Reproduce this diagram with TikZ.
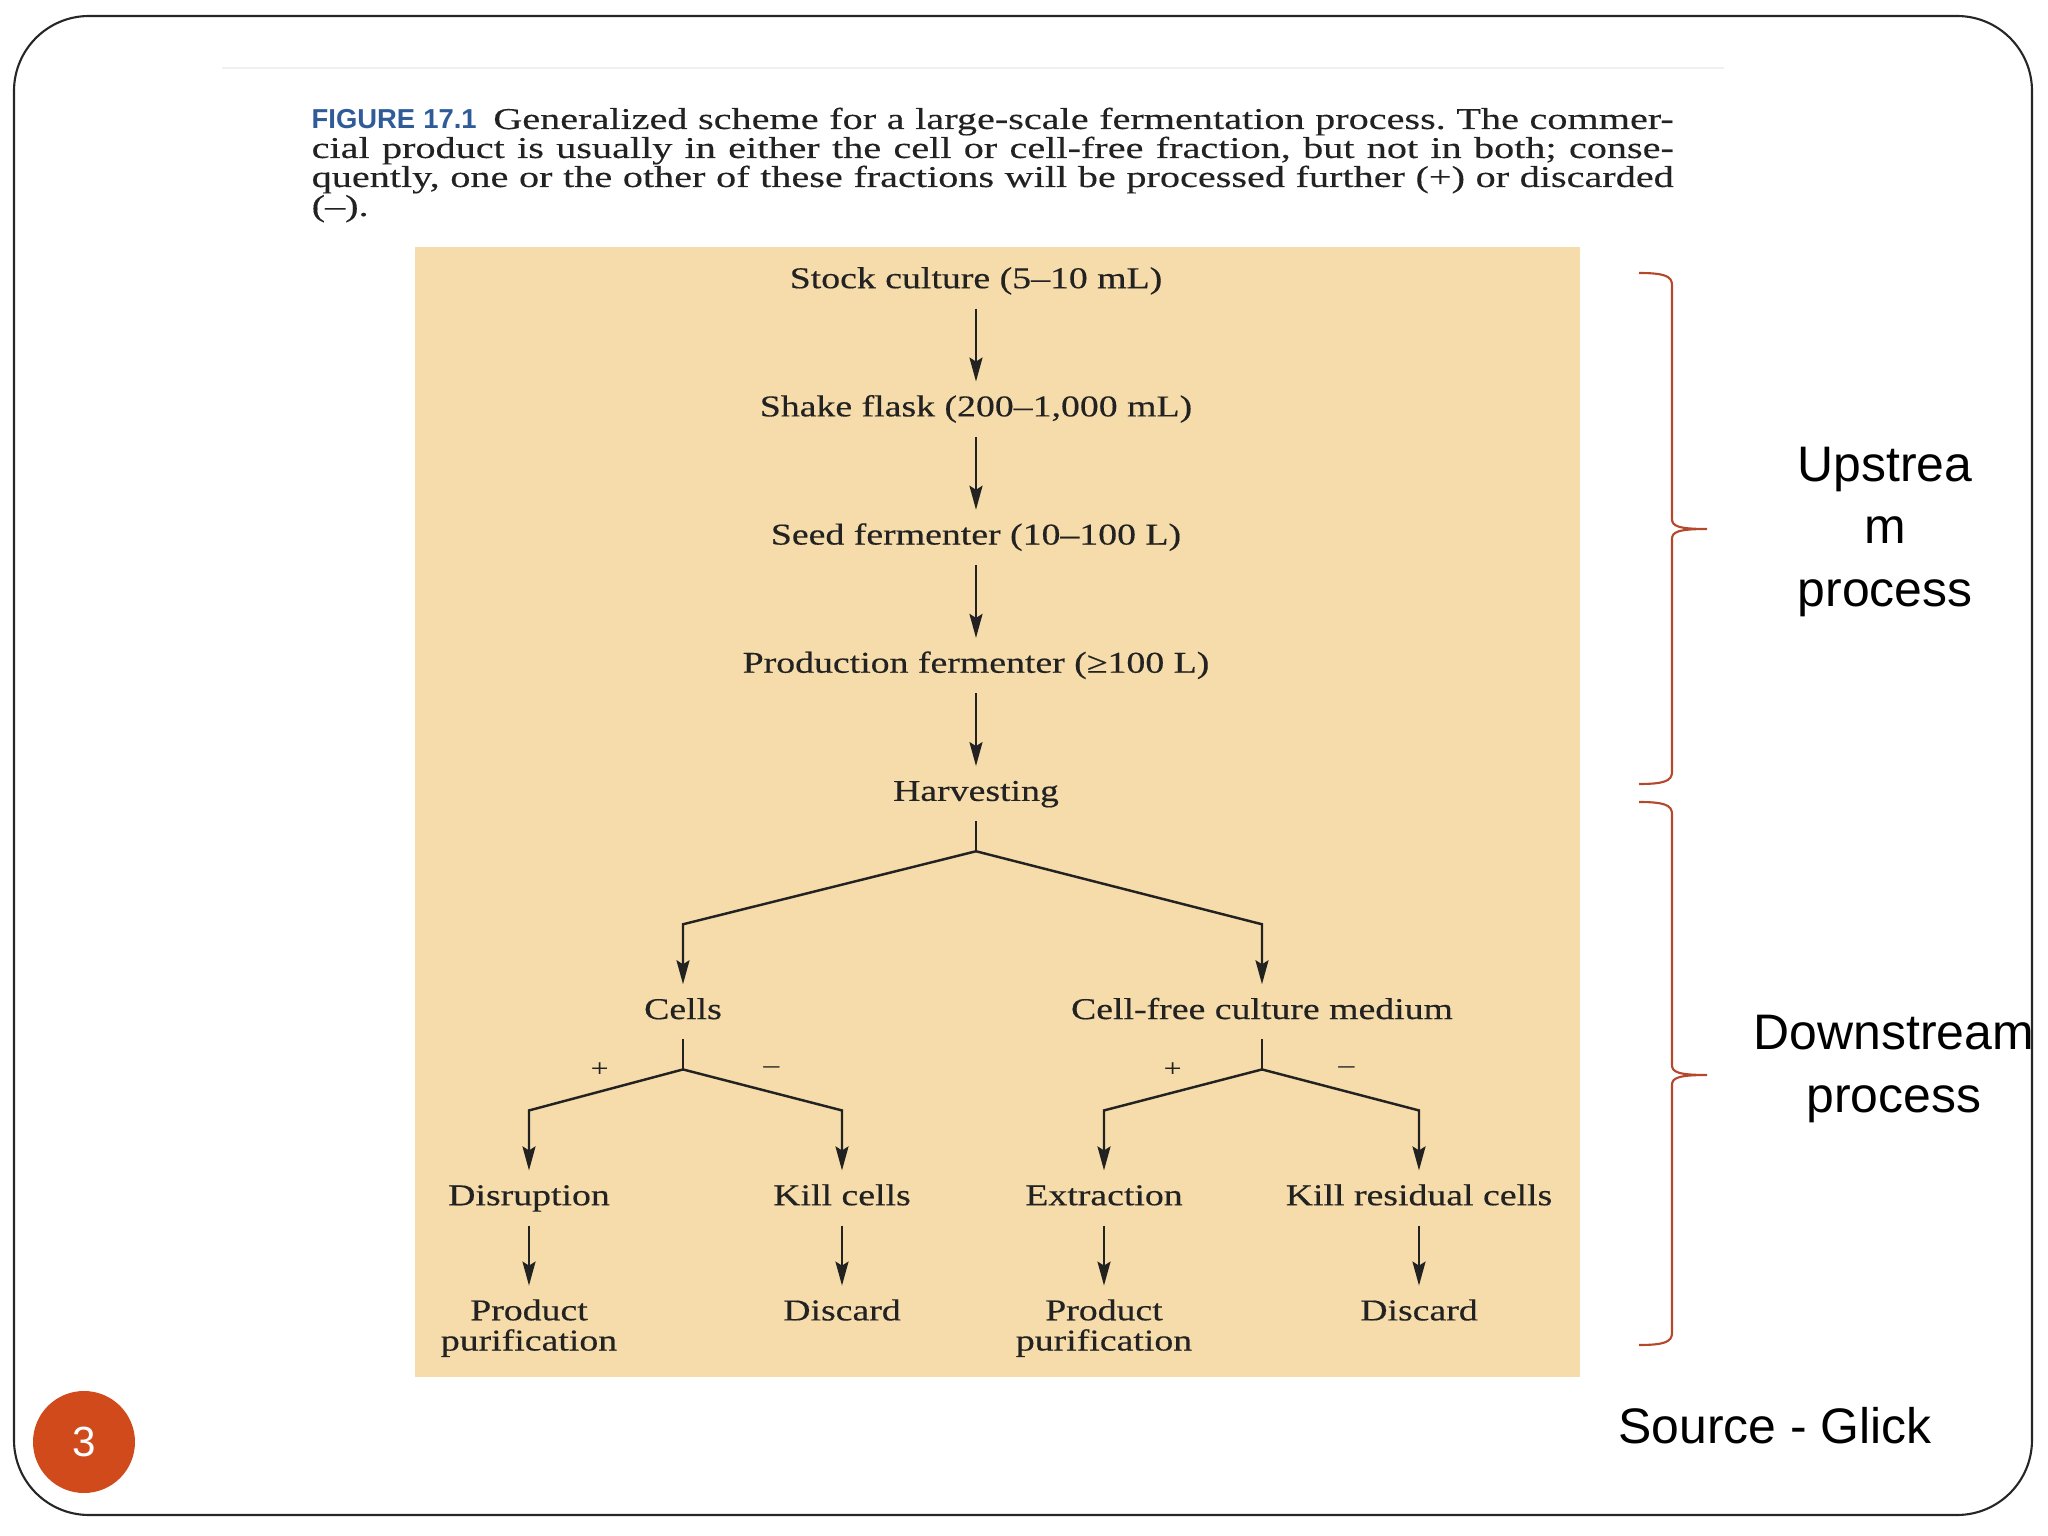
\documentclass[tikz,border=0pt]{standalone}
\usepackage{fontspec}
\usepackage{tikz}
\usetikzlibrary{positioning,arrows.meta}

\newfontfamily\figserif[FakeStretch=1.25,FakeBold=0.4]{Liberation Serif}
\newfontfamily\capserif[FakeStretch=1.33,FakeBold=0.3]{Liberation Serif}
\newfontfamily\capsans{Liberation Sans}
\newfontfamily\slidefont{Liberation Sans}

\definecolor{panel}{HTML}{F5DCAA}
\definecolor{ink}{HTML}{222222}
\definecolor{figblue}{HTML}{2F5C99}
\definecolor{bracered}{HTML}{B5472A}
\definecolor{badge}{HTML}{D14A1C}

% curly bracket on the right: top, tip, bottom (depths in cm)
\newcommand{\procbrace}[3]{%
  \draw[bracered, line width=0.6pt]
    (16.39,-#1) .. controls (16.64,-#1) and (16.72,-#1-0.03) .. (16.72,-#1-0.12)
    -- (16.72,-#2+0.10) .. controls (16.72,-#2+0.03) and (16.78,-#2) .. (17.07,-#2)
    .. controls (16.78,-#2) and (16.72,-#2-0.03) .. (16.72,-#2-0.10)
    -- (16.72,-#3+0.12) .. controls (16.72,-#3+0.03) and (16.64,-#3) .. (16.39,-#3);}

\frenchspacing
\begin{document}
\begin{tikzpicture}[node distance=0.73cm, >={Stealth[length=2.4mm,width=1.3mm,inset=0.4mm]},
    flow/.style={font=\figserif\fontsize{8.6}{9}\selectfont, text=ink, inner sep=1.3mm, text height=6pt, text depth=1.9pt},
    flowtwo/.style={font=\figserif\fontsize{8.6}{8.6}\selectfont, text=ink, inner sep=1.3mm, align=center},
    sign/.style={font=\figserif\fontsize{7}{7}\selectfont, text=ink, inner sep=0pt},
    link/.style={line width=0.7pt, draw=ink},
    side/.style={font=\slidefont\fontsize{14.2}{17.8}\selectfont, align=center}]
    \useasboundingbox (0,0) rectangle (20.48,-15.36);

    % slide frame
    \draw[rounded corners=0.75cm, line width=0.6pt, black!85] (0.14,-0.16) rectangle (20.32,-15.15);
    \draw[gray!12, line width=0.8pt] (2.22,-0.68) -- (17.24,-0.68);

    % caption
    \node (cap) [anchor=north west, inner sep=0pt, align=left, text=ink,
        font=\capserif\fontsize{8.6}{8.25}\selectfont] at (3.11,-1.07) {%
        \makebox[13.62cm][s]{\textcolor{figblue}{\capsans\bfseries\fontsize{7.8}{8}\selectfont FIGURE 17.1}\hspace{0.2em} Generalized scheme for a large-scale fermentation process. The commer-}\\
        \makebox[13.62cm][s]{cial product is usually in either the cell or cell-free fraction, but not in both; conse-}\\
        \makebox[13.62cm][s]{quently, one or the other of these fractions will be processed further (+) or discarded}\\
        (–).};

    \fill[panel] (4.15,-2.47) rectangle (15.80,-13.77);

    % upstream chain
    \node (stock) [flow] at (9.76,-2.81) {Stock culture (5–10 mL)};
    \node (shake) [flow, below=of stock] {Shake flask (200–1,000 mL)};
    \node (seed) [flow, below=of shake] {Seed fermenter (10–100 L)};
    \node (prod) [flow, below=of seed] {Production fermenter (≥100 L)};
    \node (harv) [flow, below=of prod] {Harvesting};

    % two fractions
    \node (cells) [flow, below=1.63cm of harv, xshift=-2.93cm] {Cells};
    \node (cfree) [flow, below=1.63cm of harv, xshift=2.86cm] {Cell-free culture medium};

    \node (disr) [flow, below=1.31cm of cells, xshift=-1.54cm] {Disruption};
    \node (kill) [flow, below=1.31cm of cells, xshift=1.59cm] {Kill cells};
    \node (extr) [flow, below=1.31cm of cfree, xshift=-1.58cm] {Extraction};
    \node (killres) [flow, below=1.31cm of cfree, xshift=1.57cm] {Kill residual cells};

    \node (pp1) [flowtwo, below=0.6cm of disr] {Product\\purification};
    \node (disc1) [flow, below=0.6cm of kill] {Discard};
    \node (pp2) [flowtwo, below=0.6cm of extr] {Product\\purification};
    \node (disc2) [flow, below=0.6cm of killres] {Discard};

    % split points and bends
    \coordinate [below=0.3cm of harv] (hsplit);
    \coordinate [above=0.6cm of cells] (cellsbend);
    \coordinate [above=0.6cm of cfree] (cfreebend);
    \coordinate [below=0.3cm of cells] (csplit);
    \coordinate [below=0.3cm of cfree] (fsplit);
    \coordinate [above=0.6cm of disr] (disrbend);
    \coordinate [above=0.6cm of kill] (killbend);
    \coordinate [above=0.6cm of extr] (extrbend);
    \coordinate [above=0.6cm of killres] (killresbend);

    \node (cplus) [sign, left=0.74cm of csplit] {+};
    \node (cminus) [sign, right=0.8cm of csplit] {–};
    \node (fplus) [sign, left=0.8cm of fsplit] {+};
    \node (fminus) [sign, right=0.76cm of fsplit] {–};

    \draw[link,->] (stock) -- (shake);
    \draw[link,->] (shake) -- (seed);
    \draw[link,->] (seed) -- (prod);
    \draw[link,->] (prod) -- (harv);

    \draw[link] (harv) -- (hsplit);
    \draw[link,->] (hsplit) -- (cellsbend) -- (cells);
    \draw[link,->] (hsplit) -- (cfreebend) -- (cfree);

    \draw[link] (cells) -- (csplit);
    \draw[link,->] (csplit) -- (disrbend) -- (disr);
    \draw[link,->] (csplit) -- (killbend) -- (kill);
    \draw[link] (cfree) -- (fsplit);
    \draw[link,->] (fsplit) -- (extrbend) -- (extr);
    \draw[link,->] (fsplit) -- (killresbend) -- (killres);

    \draw[link,->] (disr) -- (pp1);
    \draw[link,->] (kill) -- (disc1);
    \draw[link,->] (extr) -- (pp2);
    \draw[link,->] (killres) -- (disc2);

    % stages
    \procbrace{2.73}{5.29}{7.84}
    \procbrace{8.02}{10.75}{13.45}
    \node (up) [side] at (18.85,-5.32) {Upstrea\\m\\process};
    \node (down) [side] at (18.94,-10.69) {Downstream\\process};
    \node (src) [side] at (17.75,-14.26) {Source - Glick};

    \node (pagenum) [circle, fill=badge, minimum size=1.02cm, inner sep=0pt, text=white,
        font=\slidefont\fontsize{12}{12}\selectfont] at (0.84,-14.42) {3};
\end{tikzpicture}
\end{document}
